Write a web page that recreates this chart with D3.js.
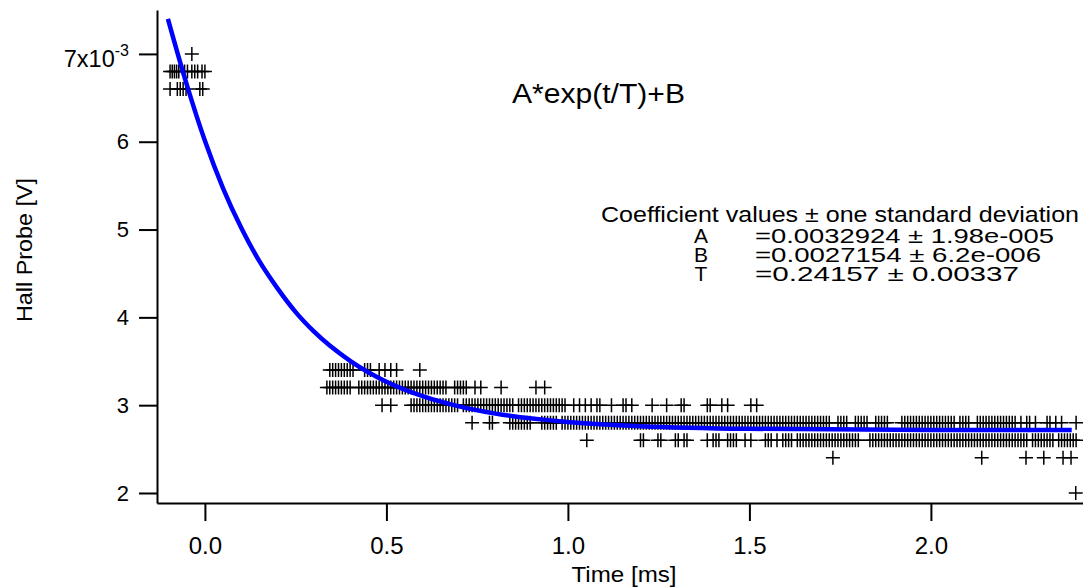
<!DOCTYPE html>
<html>
<head>
<meta charset="utf-8">
<script src="https://cdn.jsdelivr.net/npm/d3@7"></script>
<style>
    body { margin: 0; background: #fff; }
    svg { display: block; }
    text { font-family: "Liberation Sans", Arial, sans-serif; fill: #000; }
</style>
</head>
<body>
<svg class="js-canvas"></svg>
<script>
'use strict';

// sample times (ms) for each quantised level of the hall probe reading (x1e-3 V)
const t70 = [-0.036];
const t68 = [-0.096, -0.090, -0.084, -0.078, -0.072, -0.056, -0.048, -0.036, -0.028, -0.020, -0.008, 0.000];
const t66 = [-0.096, -0.076, -0.068, -0.060, -0.052, -0.014, -0.006];
const t34 = [0.344, 0.352, 0.360, 0.368, 0.376, 0.384, 0.392, 0.400, 0.408, 0.440, 0.448, 0.456,
    0.480, 0.496, 0.512, 0.528, 0.592];
const t32 = [0.336, 0.344, 0.352, 0.360, 0.368, 0.376, 0.384, 0.392, 0.400, 0.424, 0.432, 0.440,
    0.448, 0.456, 0.464, 0.472, 0.480, 0.488, 0.496, 0.504, 0.512, 0.520, 0.528, 0.536, 0.544,
    0.552, 0.560, 0.568, 0.576, 0.584, 0.592, 0.600, 0.608, 0.616, 0.624, 0.632, 0.640, 0.648,
    0.656, 0.664, 0.688, 0.696, 0.704, 0.712, 0.720, 0.744, 0.760, 0.816, 0.912, 0.936];
const t30 = [0.488, 0.512, 0.568, 0.576, 0.584, 0.592, 0.600, 0.608, 0.616, 0.624, 0.632, 0.640,
    0.648, 0.656, 0.664, 0.672, 0.680, 0.688, 0.696, 0.712, 0.720, 0.728, 0.736, 0.744, 0.752,
    0.760, 0.768, 0.776, 0.784, 0.792, 0.800, 0.808, 0.816, 0.824, 0.832, 0.840, 0.848, 0.864,
    0.872, 0.880, 0.888, 0.896, 0.904, 0.912, 0.920, 0.928, 0.936, 0.944, 0.952, 0.960, 0.968,
    0.976, 0.984, 0.992, 1.016, 1.032, 1.048, 1.064, 1.080, 1.088, 1.120, 1.152, 1.160, 1.176,
    1.232, 1.272, 1.312, 1.320, 1.384, 1.392, 1.424, 1.440, 1.504, 1.520];
const t28 = [0.736, 0.784, 0.792, 0.840, 0.848, 0.856, 0.864, 0.872, 0.880, 0.888, 0.896, 0.928,
    0.936, 0.944, 0.952, 0.960, 0.968, 0.984, 0.992, 1.000, 1.008, 1.016, 1.024, 1.032, 1.040,
    1.048, 1.056, 1.064, 1.072, 1.080, 1.088, 1.096, 1.104, 1.112, 1.120, 1.128, 1.136, 1.144,
    1.152, 1.160, 1.168, 1.176, 1.184, 1.192, 1.200, 1.208, 1.216, 1.224, 1.232, 1.240, 1.248,
    1.256, 1.264, 1.272, 1.280, 1.288, 1.296, 1.304, 1.312, 1.320, 1.328, 1.336, 1.344, 1.352,
    1.360, 1.368, 1.376, 1.384, 1.392, 1.400, 1.408, 1.416, 1.424, 1.432, 1.440, 1.448, 1.456,
    1.464, 1.472, 1.480, 1.488, 1.496, 1.504, 1.512, 1.520, 1.528, 1.536, 1.544, 1.552, 1.560,
    1.568, 1.576, 1.584, 1.592, 1.600, 1.608, 1.616, 1.624, 1.632, 1.640, 1.648, 1.656, 1.664,
    1.672, 1.680, 1.688, 1.696, 1.704, 1.712, 1.720, 1.744, 1.752, 1.760, 1.768, 1.792, 1.800,
    1.808, 1.816, 1.824, 1.848, 1.856, 1.864, 1.872, 1.880, 1.920, 1.928, 1.936, 1.944, 1.952,
    1.960, 1.968, 1.976, 1.984, 1.992, 2.000, 2.008, 2.016, 2.024, 2.032, 2.040, 2.048, 2.056,
    2.064, 2.080, 2.088, 2.096, 2.104, 2.128, 2.136, 2.144, 2.152, 2.160, 2.168, 2.176, 2.184,
    2.192, 2.200, 2.208, 2.216, 2.224, 2.232, 2.248, 2.264, 2.272, 2.288, 2.320, 2.328, 2.344,
    2.360, 2.400];
const t26 = [1.052, 1.200, 1.208, 1.248, 1.256, 1.296, 1.304, 1.320, 1.328, 1.384, 1.400, 1.408,
    1.416, 1.440, 1.448, 1.456, 1.464, 1.488, 1.504, 1.544, 1.552, 1.560, 1.576, 1.592, 1.600,
    1.608, 1.616, 1.632, 1.640, 1.648, 1.656, 1.664, 1.672, 1.680, 1.688, 1.696, 1.704, 1.712,
    1.720, 1.728, 1.736, 1.744, 1.752, 1.760, 1.768, 1.776, 1.784, 1.792, 1.800, 1.832, 1.840,
    1.848, 1.856, 1.864, 1.872, 1.880, 1.888, 1.896, 1.904, 1.912, 1.920, 1.928, 1.936, 1.944,
    1.952, 1.960, 1.968, 1.976, 1.984, 1.992, 2.000, 2.008, 2.016, 2.024, 2.032, 2.040, 2.048,
    2.056, 2.064, 2.072, 2.080, 2.088, 2.096, 2.104, 2.112, 2.120, 2.128, 2.136, 2.144, 2.152,
    2.160, 2.168, 2.176, 2.184, 2.192, 2.200, 2.208, 2.216, 2.224, 2.232, 2.240, 2.248, 2.256,
    2.264, 2.280, 2.288, 2.296, 2.304, 2.312, 2.320, 2.328, 2.336, 2.352, 2.360, 2.368, 2.376,
    2.384, 2.392, 2.400];
const t24 = [1.730, 2.140, 2.262, 2.311, 2.364, 2.386];
const t20 = [2.399];

const levels = [7.0, 6.8, 6.6, 3.4, 3.2, 3.0, 2.8, 2.6, 2.4, 2.0];
const levelTimes = [t70, t68, t66, t34, t32, t30, t28, t26, t24, t20];

// fitted curve
const fitT = [-0.102, -0.05, 0, 0.05, 0.1, 0.15, 0.2, 0.25, 0.3, 0.4, 0.5, 0.6, 0.7, 0.8, 1.0,
    1.2, 1.5, 2.0, 2.388];
const fitV = [7.40, 6.65, 6.01, 5.47, 5.02, 4.64, 4.33, 4.06, 3.84, 3.505, 3.267, 3.102, 2.986,
    2.904, 2.808, 2.761, 2.731, 2.718, 2.716];

const xTicks = [0, 0.5, 1.0, 1.5, 2.0];
const yTicks = [2, 3, 4, 5, 6, 7];

const fitTitle = 'A*exp(t/T)+B';
const coefHeader = 'Coefficient values \u00b1 one standard deviation';
const coefNames = ['A', 'B', 'T'];
const coefValues = ['=0.0032924 \u00b1 1.98e-005', '=0.0027154 \u00b1 6.2e-006', '=0.24157 \u00b1 0.00337'];

const config = {
    width: 1083,
    height: 588,
    margin: { top: 10, right: 0, bottom: 85, left: 157 }
};

const svg = d3.select('.js-canvas')
    .attr('width', config.width)
    .attr('height', config.height);

const x = d3.scaleLinear()
    .domain([-0.132, 2.419])
    .range([config.margin.left, config.width - config.margin.right]);

const y = d3.scaleLinear()
    .domain([1.886, 7.5])
    .range([config.height - config.margin.bottom, config.margin.top]);

// scatter of '+' markers
const points = [];
levels.forEach((lv, i) => levelTimes[i].forEach(t => points.push({ t: t, v: lv })));

svg.append('g')
    .selectAll('path')
    .data(points)
    .enter().append('path')
    .attr('transform', d => `translate(${x(d.t)},${y(d.v)})`)
    .attr('d', 'M-7,0H7M0,-7V7')
    .attr('stroke', '#000')
    .attr('stroke-width', 1.5)
    .attr('fill', 'none');

// fit curve
const fit = fitT.map((t, i) => ({ t: t, v: fitV[i] }));
const line = d3.line()
    .x(d => x(d.t))
    .y(d => y(d.v))
    .curve(d3.curveMonotoneX);

svg.append('path')
    .datum(fit)
    .attr('d', line)
    .attr('fill', 'none')
    .attr('stroke', '#0000ff')
    .attr('stroke-width', 4.5);

// axes
const xAxis = d3.axisBottom(x)
    .tickValues(xTicks)
    .tickSize(18)
    .tickSizeOuter(0)
    .tickPadding(16)
    .tickFormat(d3.format('.1f'));

const yAxis = d3.axisLeft(y)
    .tickValues(yTicks)
    .tickSize(18)
    .tickSizeOuter(0)
    .tickPadding(10)
    .tickFormat(d => d === 7 ? '7x10' : d);

const xAxisGroup = svg.append('g')
    .attr('transform', `translate(0, ${config.height - config.margin.bottom})`)
    .call(xAxis);

const yAxisGroup = svg.append('g')
    .attr('transform', `translate(${config.margin.left}, 0)`)
    .call(yAxis);

[xAxisGroup, yAxisGroup].forEach(g => {
    g.attr('font-size', null).attr('font-family', null);
    g.selectAll('path, line').attr('stroke', '#000').attr('stroke-width', 2);
    g.selectAll('text').attr('fill', '#000');
});
xAxisGroup.selectAll('text').style('font-size', '24px');
yAxisGroup.selectAll('text').style('font-size', '22px');

// exponent on the top tick, label block sits a little below its tick
const topLabel = yAxisGroup.selectAll('.tick')
    .filter(d => d === 7)
    .select('text')
    .attr('dy', '0.55em')
    .style('font-size', '23.5px');
topLabel.append('tspan')
    .attr('dy', '-0.7em')
    .style('font-size', '16px')
    .text('-3');

// axis titles
svg.append('text')
    .attr('x', 624)
    .attr('y', 582)
    .attr('text-anchor', 'middle')
    .attr('textLength', 105)
    .attr('lengthAdjust', 'spacingAndGlyphs')
    .style('font-size', '22px')
    .text('Time [ms]');

svg.append('text')
    .attr('transform', 'translate(32, 250) rotate(-90)')
    .attr('text-anchor', 'middle')
    .attr('textLength', 144)
    .attr('lengthAdjust', 'spacingAndGlyphs')
    .style('font-size', '22px')
    .text('Hall Probe [V]');

// fit annotation
svg.append('text')
    .attr('x', 512)
    .attr('y', 103)
    .attr('textLength', 173)
    .attr('lengthAdjust', 'spacingAndGlyphs')
    .style('font-size', '27px')
    .text(fitTitle);

svg.append('text')
    .attr('x', 601)
    .attr('y', 222)
    .attr('textLength', 478)
    .attr('lengthAdjust', 'spacingAndGlyphs')
    .style('font-size', '22px')
    .text(coefHeader);

const valueLengths = [299, 286, 264];
coefNames.forEach((n, i) => {
    const by = 242.5 + i * 19.3;
    svg.append('text')
        .attr('x', 701)
        .attr('y', by)
        .attr('text-anchor', 'middle')
        .style('font-size', '21px')
        .text(n);
    svg.append('text')
        .attr('x', 755)
        .attr('y', by)
        .attr('textLength', valueLengths[i])
        .attr('lengthAdjust', 'spacingAndGlyphs')
        .style('font-size', '21px')
        .text(coefValues[i]);
});
</script>
</body>
</html>
